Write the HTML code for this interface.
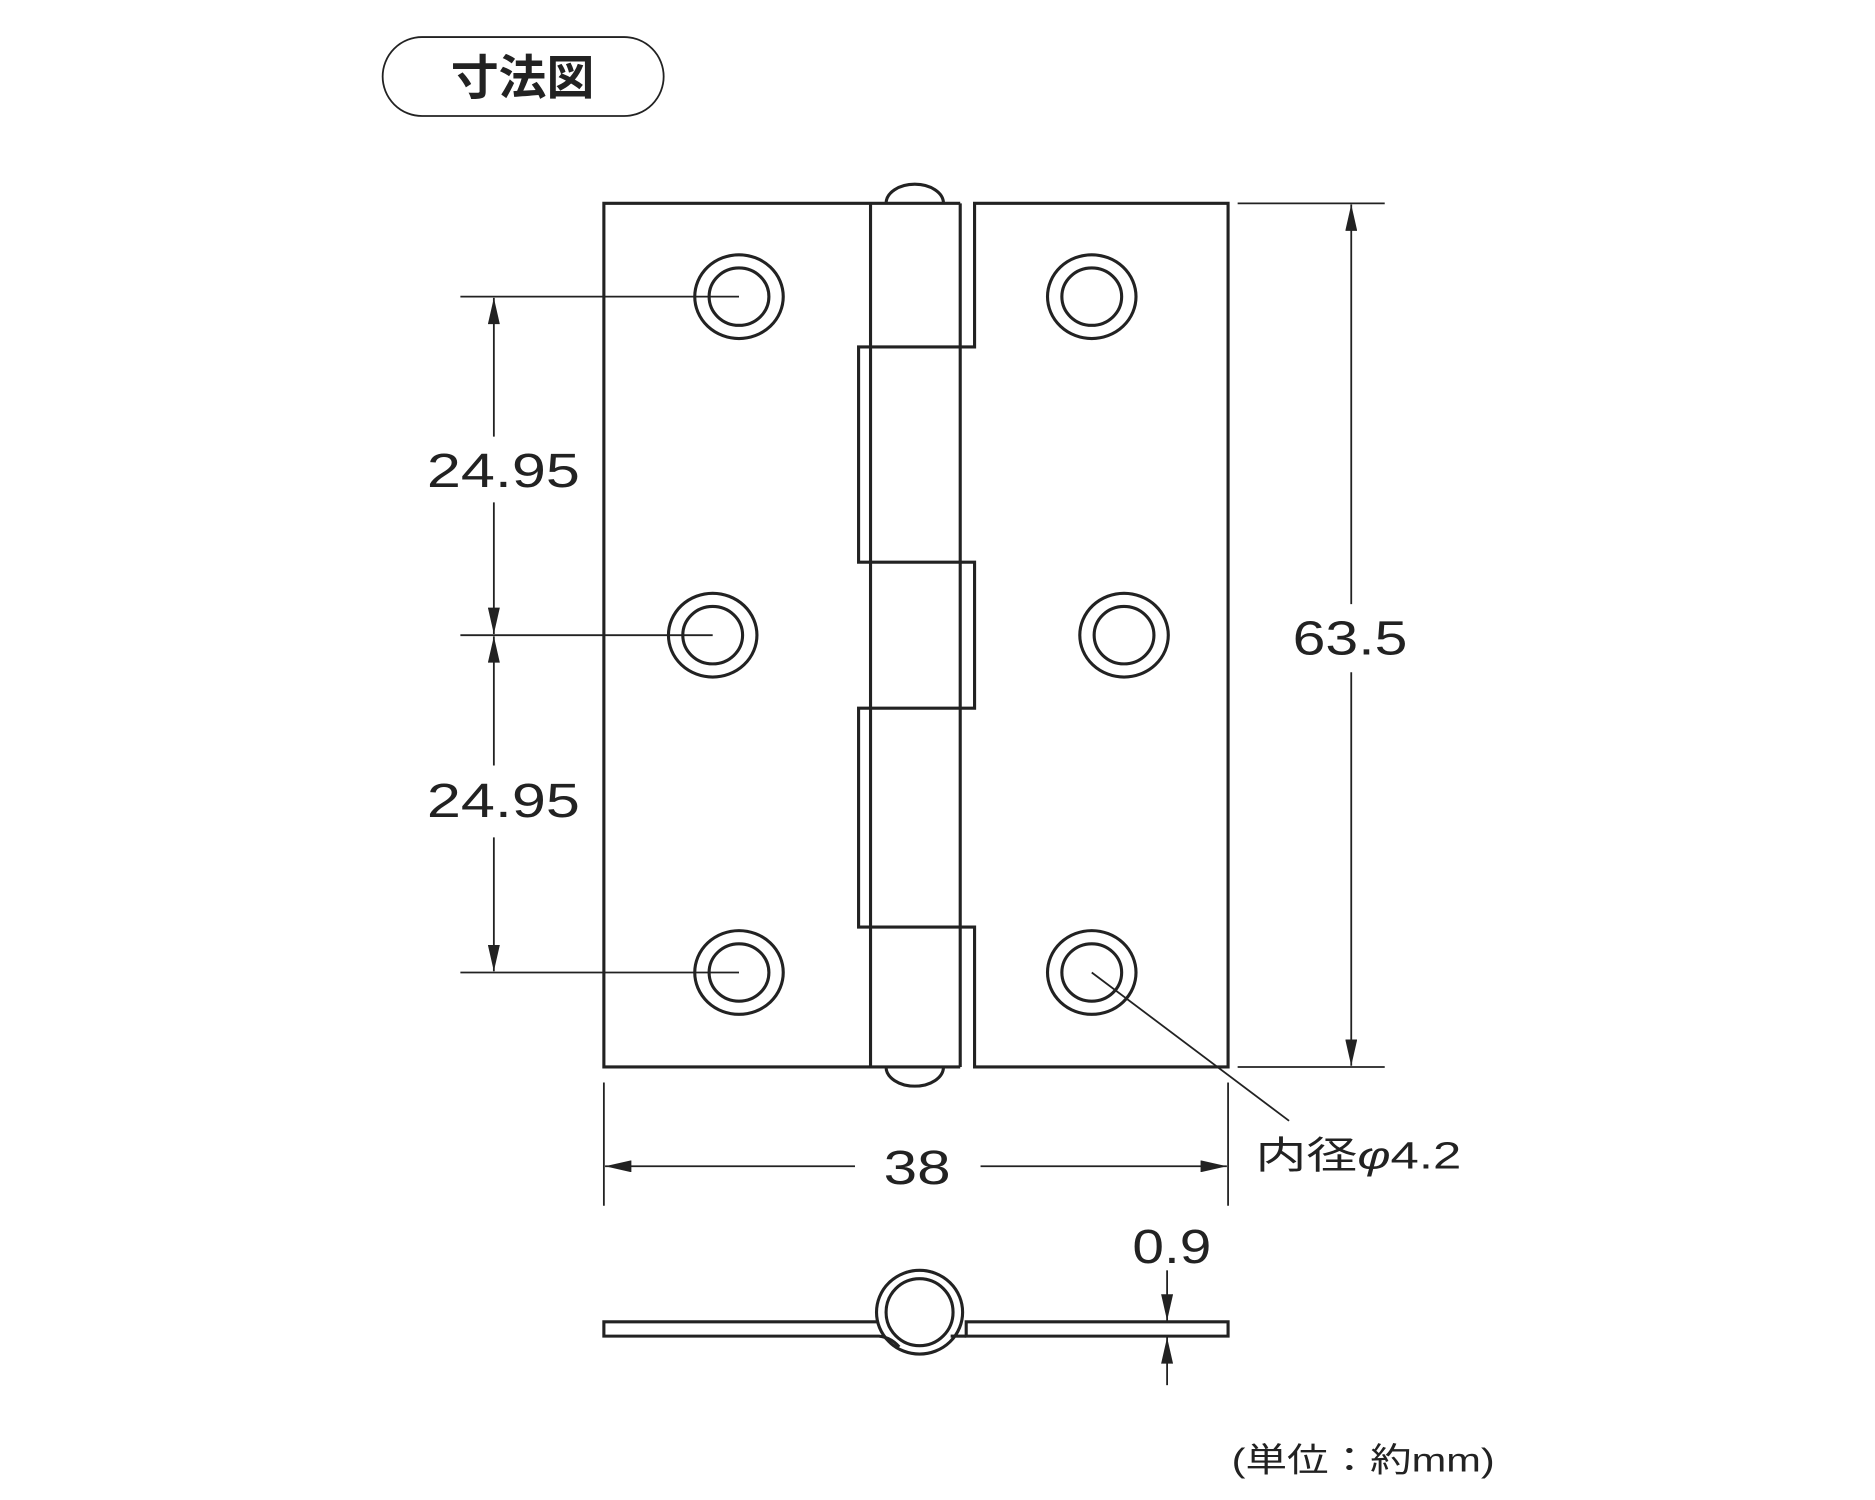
<!DOCTYPE html>
<html><head><meta charset="utf-8"><style>html,body{margin:0;padding:0;background:#fff}svg{display:block}</style></head>
<body>
<svg width="1875" height="1500" viewBox="0 0 1568 1254" preserveAspectRatio="none" xmlns="http://www.w3.org/2000/svg">
<defs>
<marker id="b" viewBox="0 0 22 10" refX="22" refY="5" markerWidth="24" markerHeight="10" markerUnits="userSpaceOnUse" orient="auto-start-reverse"><path d="M0,0 L22,5 L0,10 z" fill="#222"/></marker>
</defs>
<rect width="1568" height="1254" fill="#fff"/>
<rect x="320" y="31" width="235" height="66" rx="33" fill="#fff" stroke="#222" stroke-width="1.5"/>
<text x="437" y="79" font-family="'Liberation Sans','Noto Sans CJK JP',sans-serif" font-weight="bold" font-size="40" text-anchor="middle" fill="#222">寸法図</text>

<g fill="none" stroke="#222" stroke-width="2.6">
<path d="M741,170 A24,16 0 0 1 789,170"/>
<path d="M741,892 A24,16 0 0 0 789,892"/>
<path d="M803,170 L505,170 L505,892 L803,892"/>
<line x1="728" y1="170" x2="728" y2="892"/>
<line x1="803" y1="170" x2="803" y2="892"/>
<path d="M815,170 L815,290 L718,290 L718,470 L815,470 L815,592 L718,592 L718,775 L815,775 L815,892 L1027,892 L1027,170 Z"/>
<ellipse cx="618" cy="248" rx="37" ry="35"/><ellipse cx="618" cy="248" rx="25" ry="24"/>
<ellipse cx="596" cy="531" rx="37" ry="35"/><ellipse cx="596" cy="531" rx="25" ry="24"/>
<ellipse cx="618" cy="813" rx="37" ry="35"/><ellipse cx="618" cy="813" rx="25" ry="24"/>
<ellipse cx="913" cy="248" rx="37" ry="35"/><ellipse cx="913" cy="248" rx="25" ry="24"/>
<ellipse cx="940" cy="531" rx="37" ry="35"/><ellipse cx="940" cy="531" rx="25" ry="24"/>
<ellipse cx="913" cy="813" rx="37" ry="35"/><ellipse cx="913" cy="813" rx="25" ry="24"/>
<path d="M735,1105 L505,1105 L505,1117 L735,1117 Q745,1118 752,1126"/>
<path d="M808,1105 L1027,1105 L1027,1117 L808,1117 Z"/>
<line x1="795" y1="1117" x2="808" y2="1117"/>
<ellipse cx="769" cy="1097" rx="36" ry="35"/>
<ellipse cx="769" cy="1097" rx="28" ry="28"/>
</g>

<g fill="none" stroke="#222" stroke-width="1.5">
<line x1="385" y1="248" x2="618" y2="248"/>
<line x1="385" y1="531" x2="596" y2="531"/>
<line x1="385" y1="813" x2="618" y2="813"/>
<line x1="413" y1="365" x2="413" y2="249" marker-end="url(#b)"/>
<line x1="413" y1="420" x2="413" y2="530" marker-end="url(#b)"/>
<line x1="413" y1="640" x2="413" y2="532" marker-end="url(#b)"/>
<line x1="413" y1="700" x2="413" y2="812" marker-end="url(#b)"/>
<line x1="1035" y1="170" x2="1158" y2="170"/>
<line x1="1035" y1="892" x2="1158" y2="892"/>
<line x1="1130" y1="505" x2="1130" y2="171" marker-end="url(#b)"/>
<line x1="1130" y1="562" x2="1130" y2="891" marker-end="url(#b)"/>
<line x1="505" y1="905" x2="505" y2="1008"/>
<line x1="1027" y1="905" x2="1027" y2="1008"/>
<line x1="715" y1="975" x2="506" y2="975" marker-end="url(#b)"/>
<line x1="820" y1="975" x2="1026" y2="975" marker-end="url(#b)"/>
<line x1="913" y1="813" x2="1078" y2="937"/>
<line x1="976" y1="1062" x2="976" y2="1104" marker-end="url(#b)"/>
<line x1="976" y1="1158" x2="976" y2="1118" marker-end="url(#b)"/>
</g>

<g font-family="'Liberation Sans','Noto Sans CJK JP',sans-serif" fill="#222" text-anchor="middle">
<text x="421" y="407" font-size="40" textLength="128" lengthAdjust="spacingAndGlyphs">24.95</text>
<text x="421" y="683" font-size="40" textLength="128" lengthAdjust="spacingAndGlyphs">24.95</text>
<text x="1129" y="547" font-size="40" textLength="96" lengthAdjust="spacingAndGlyphs">63.5</text>
<text x="767" y="990" font-size="40" textLength="56" lengthAdjust="spacingAndGlyphs">38</text>
<text x="980" y="1056" font-size="40" textLength="66" lengthAdjust="spacingAndGlyphs">0.9</text>
<text x="1136" y="977" font-size="32" textLength="172" lengthAdjust="spacingAndGlyphs">内径<tspan font-style="italic">φ</tspan>4.2</text>
<text x="1140" y="1230" font-size="28" textLength="220" lengthAdjust="spacingAndGlyphs">(単位：約mm)</text>
</g>
</svg>
</body></html>
